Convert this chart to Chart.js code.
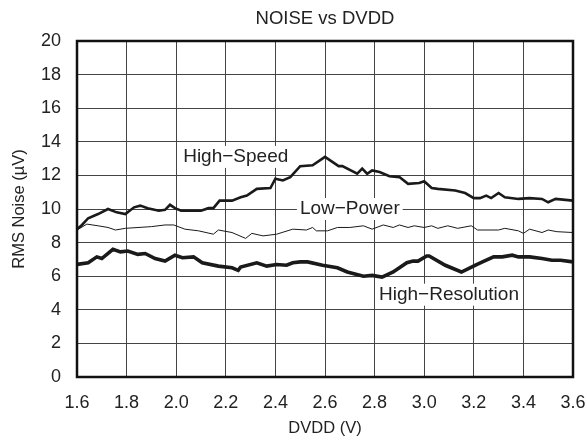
<!DOCTYPE html>
<html>
<head>
<meta charset="utf-8">
<script src="https://cdn.jsdelivr.net/npm/chart.js@4.4.0/dist/chart.umd.min.js"></script>
<style>
  html, body { margin: 0; padding: 0; background: #fff; }
  #wrap { width: 587px; height: 441px; }
</style>
</head>
<body>
<div id="wrap"><canvas id="noiseChart"></canvas></div>
<script>
// supply voltage (V) and rms noise (uV) per mode
var hsVolts = [1.60,1.62,1.645,1.685,1.725,1.76,1.795,1.83,1.855,1.885,1.93,1.955,1.975,1.995,2.02,2.10,2.13,2.15,2.175,2.225,2.26,2.285,2.325,2.38,2.40,2.43,2.46,2.50,2.55,2.60,2.655,2.67,2.73,2.75,2.77,2.79,2.82,2.86,2.90,2.935,2.98,3.00,3.03,3.055,3.125,3.165,3.20,3.225,3.25,3.27,3.30,3.325,3.38,3.425,3.475,3.50,3.53,3.60];
var hsNoise = [8.8,9.05,9.45,9.7,10.0,9.8,9.7,10.1,10.2,10.05,9.9,9.95,10.25,10.05,9.9,9.9,10.05,10.05,10.5,10.5,10.7,10.8,11.2,11.25,11.8,11.7,11.9,12.55,12.6,13.1,12.55,12.55,12.1,12.4,12.1,12.3,12.2,11.95,11.9,11.5,11.55,11.65,11.25,11.2,11.1,10.95,10.65,10.65,10.8,10.65,10.95,10.7,10.6,10.65,10.6,10.4,10.6,10.5];

var lpVolts = [1.60,1.64,1.685,1.725,1.755,1.795,1.90,1.955,1.99,2.035,2.09,2.15,2.17,2.225,2.28,2.305,2.35,2.405,2.47,2.525,2.55,2.565,2.61,2.65,2.70,2.755,2.79,2.835,2.875,2.90,2.935,2.96,3.00,3.03,3.055,3.095,3.135,3.19,3.215,3.30,3.325,3.38,3.40,3.425,3.475,3.50,3.535,3.60];
var lpNoise = [8.75,9.1,9.0,8.9,8.75,8.85,8.95,9.05,9.05,8.8,8.7,8.5,8.75,8.6,8.25,8.55,8.4,8.5,8.8,8.75,8.9,8.7,8.7,8.9,8.9,9.0,8.8,9.05,8.9,9.05,8.9,9.0,8.9,9.0,8.85,9.0,8.85,9.0,8.75,8.75,8.85,8.7,8.55,8.8,8.6,8.75,8.65,8.6];

var hrVolts = [1.60,1.645,1.68,1.70,1.745,1.775,1.805,1.845,1.875,1.915,1.955,1.995,2.025,2.07,2.105,2.17,2.225,2.25,2.26,2.325,2.365,2.405,2.445,2.47,2.50,2.53,2.59,2.65,2.69,2.755,2.79,2.83,2.875,2.93,2.955,2.975,3.01,3.02,3.085,3.15,3.205,3.235,3.28,3.315,3.355,3.38,3.425,3.475,3.515,3.55,3.60];
var hrNoise = [6.7,6.8,7.15,7.05,7.6,7.45,7.5,7.3,7.35,7.05,6.9,7.25,7.1,7.15,6.8,6.6,6.5,6.35,6.55,6.8,6.6,6.7,6.65,6.8,6.85,6.85,6.65,6.5,6.25,6.0,6.05,5.95,6.25,6.8,6.9,6.9,7.2,7.2,6.65,6.25,6.65,6.85,7.15,7.15,7.25,7.15,7.15,7.05,6.95,6.95,6.85];

var xTicks = [1.6,1.8,2.0,2.2,2.4,2.6,2.8,3.0,3.2,3.4,3.6];
var yTicks = [0,2,4,6,8,10,12,14,16,18,20];

function pts(xs, ys) {
  return xs.map(function (v, i) { return { x: v, y: ys[i] }; });
}

var FONT = "'Liberation Sans', Arial, Helvetica, sans-serif";

// curve names in white boxes, placed in data units
var curveLabels = {
  id: 'curveLabels',
  beforeDatasetsDraw: function (chart, args, opts) {
    var c = chart.ctx, xs = chart.scales.x, ys = chart.scales.y;
    c.save();
    c.font = '19px ' + FONT;
    c.textAlign = 'center';
    c.textBaseline = 'middle';
    opts.items.forEach(function (it) {
      var px = xs.getPixelForValue(it.x), py = ys.getPixelForValue(it.y);
      var w = c.measureText(it.text).width;
      c.fillStyle = '#fff';
      c.fillRect(px - w / 2 - 3, py - 11, w + 6, 22);
      c.fillStyle = '#222';
      c.fillText(it.text, px, py);
    });
    c.restore();
  }
};

// heavy frame round the plot, title centred over it
var frame = {
  id: 'frame',
  afterDatasetsDraw: function (chart, args, opts) {
    var a = chart.chartArea, c = chart.ctx;
    c.save();
    c.strokeStyle = '#111';
    c.lineWidth = 2.5;
    c.strokeRect(a.left, a.top, a.right - a.left, a.bottom - a.top);
    c.font = '18.5px ' + FONT;
    c.fillStyle = '#222';
    c.textAlign = 'center';
    c.textBaseline = 'middle';
    c.fillText(opts.title, (a.left + a.right) / 2, 19);
    c.restore();
  }
};

var ctx = document.getElementById('noiseChart');
new Chart(ctx, {
  type: 'line',
  data: {
    datasets: [{
        label: 'High-Speed',
        data: pts(hsVolts, hsNoise),
        borderColor: '#1a1a1a',
        borderWidth: 2.6,
        pointRadius: 0,
        lineTension: 0,
        fill: false
      }, {
        label: 'Low-Power',
        data: pts(lpVolts, lpNoise),
        borderColor: '#1a1a1a',
        borderWidth: 1,
        pointRadius: 0,
        lineTension: 0,
        fill: false
      }, {
        label: 'High-Resolution',
        data: pts(hrVolts, hrNoise),
        borderColor: '#1a1a1a',
        borderWidth: 3.6,
        pointRadius: 0,
        lineTension: 0,
        fill: false
      }
    ]
  },
  plugins: [curveLabels, frame],
  options: {
    responsive: true,
    maintainAspectRatio: false,
    animation: false,
    layout: { padding: { left: 0, right: 14, top: 41, bottom: 0 } },
    plugins: {
      legend: { display: false },
      tooltip: { enabled: false },
      title: { display: false },
      frame: { title: 'NOISE vs DVDD' },
      curveLabels: {
        items: [
          { text: 'High\u2212Speed', x: 2.24, y: 13.1 },
          { text: 'Low\u2212Power', x: 2.70, y: 10.0 },
          { text: 'High\u2212Resolution', x: 3.10, y: 4.9 }
        ]
      }
    },
    scales: {
      x: {
        type: 'linear',
        min: 1.6,
        max: 3.6,
        afterFit: function (s) {
          s.height = 64;
          s.paddingLeft = 0;
          s.paddingRight = 0;
        },
        afterBuildTicks: function (s) { s.ticks = xTicks.map(function (v) { return { value: v }; }); },
        ticks: {
          color: '#222',
          font: { family: FONT, size: 18 },
          padding: 15,
          maxRotation: 0,
          callback: function (v) { return Number(v).toFixed(1); }
        },
        grid: { color: '#444', lineWidth: 1, drawTicks: false },
        border: { display: false },
        title: {
          display: true,
          text: 'DVDD (V)',
          color: '#222',
          font: { family: FONT, size: 16.5 },
          padding: { top: 0, bottom: 3 }
        }
      },
      y: {
        min: 0,
        max: 20,
        afterFit: function (s) {
          s.width = 77;
          s.paddingTop = 0;
          s.paddingBottom = 0;
        },
        afterBuildTicks: function (s) { s.ticks = yTicks.map(function (v) { return { value: v }; }); },
        ticks: {
          color: '#222',
          font: { family: FONT, size: 18 },
          padding: 16
        },
        grid: { color: '#444', lineWidth: 1, drawTicks: false },
        border: { display: false },
        title: {
          display: true,
          text: 'RMS Noise (\u00b5V)',
          color: '#222',
          font: { family: FONT, size: 16.5 },
          padding: { top: 10, bottom: 0 }
        }
      }
    }
  }
});
</script>
</body>
</html>
